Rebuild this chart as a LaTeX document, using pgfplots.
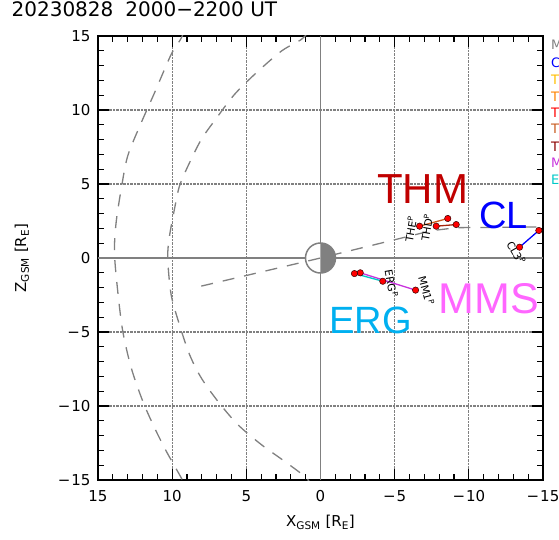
\documentclass[border=0pt]{standalone}
\usepackage{fontspec}
\setmainfont{DejaVu Sans}
\newfontfamily\lib{Liberation Sans}
\usepackage{pgfplots}
\pgfplotsset{compat=1.18}
\definecolor{thmred}{RGB}{192,0,0}
\definecolor{clblue}{RGB}{0,0,255}
\definecolor{mmspink}{RGB}{255,102,255}
\definecolor{ergblue}{RGB}{0,176,240}
\definecolor{tha}{RGB}{255,190,0}
\definecolor{thb}{RGB}{255,130,0}
\definecolor{thc}{RGB}{255,0,0}
\definecolor{thd}{RGB}{200,90,30}
\definecolor{the}{RGB}{140,0,0}
\definecolor{mmsline}{RGB}{200,50,220}
\definecolor{ergline}{RGB}{0,200,200}
\definecolor{mgray}{RGB}{128,128,128}
\begin{document}
\begin{tikzpicture}[x=1pt,y=1pt]
\begin{axis}[
  at={(98pt,59pt)}, anchor=south west,
  scale only axis, width=445pt, height=444pt,
  xmin=-15, xmax=15, ymin=-15, ymax=15, x dir=reverse,
  xtick={-15,-10,-5,0,5,10,15}, ytick={-15,-10,-5,0,5,10,15},
  xticklabels={{−\kern1pt15},{−\kern1pt10},{−\kern1pt5},0,5,10,15},
  yticklabels={{−\kern1pt15},{−\kern1pt10},{−\kern1pt5},0,5,10,15},
  minor tick num=4,
  tick align=inside,
  major tick length=11pt, minor tick length=6pt,
  every tick/.style={black, line width=1.2pt},
  axis line style={black, line width=1.6pt},
  grid=major, major grid style={mgray, densely dotted, line width=1.1pt},
  ticklabel style={font=\fontsize{15}{15}\selectfont},
  xticklabel style={yshift=-7pt},
  yticklabel style={xshift=-4pt},
  xlabel={X\textsubscript{GSM} [R\textsubscript{E}]},
  ylabel={Z\textsubscript{GSM} [R\textsubscript{E}]},
  label style={font=\fontsize{15}{15}\selectfont},
  xlabel style={at={(axis description cs:0.5,-0.095)}, anchor=center},
  ylabel style={at={(axis description cs:-0.171,0.5)}, anchor=center},
  title={20230828\hspace{0.6em}2000−2200 UT},
  title style={at={(axis description cs:-0.202,1.047)}, anchor=west, font=\fontsize{20}{20}\selectfont},
  clip=true,
]
% zero lines
\addplot[mgray, line width=1.5pt] coordinates {(15,0) (-15,0)};
\addplot[mgray, line width=1.5pt] coordinates {(0,15) (0,-15)};
% outer boundary
\addplot[mgray, line width=1.3pt, dash pattern=on 12pt off 10pt, smooth] coordinates {
(9.2,15.3) (9.44,14.76) (10.07,13.75) (11.19,11.16) (12.09,9.13) (13.0,6.88) (13.44,4.63) (13.78,2.38) (13.89,0.35)
(13.67,-2.24) (13.33,-4.95) (12.76,-7.42) (11.98,-9.68) (11.19,-11.47) (10.4,-13.05) (9.39,-14.85) (9.2,-15.3)};
% inner boundary
\addplot[mgray, line width=1.3pt, dash pattern=on 12pt off 10pt, smooth] coordinates {
(0.9,15.2) (1.3,14.76) (2.65,13.97) (4.45,12.4) (5.8,11.05) (6.92,9.58) (8.04,8.0) (8.94,6.2) (9.51,4.85) (9.85,3.28) (10.18,1.47) (10.3,0.0)
(10.07,-2.47) (9.51,-4.5) (8.83,-6.52) (8.04,-8.1) (6.92,-9.68) (5.58,-11.25) (4.0,-12.6) (2.43,-13.73) (1.08,-14.74) (0.7,-15.2)};
% earth
\fill[white] (axis cs:0,0) circle[radius=15pt];
\begin{scope}
\clip (axis cs:0,-3) rectangle (axis cs:-3,3);
\fill[mgray] (axis cs:0,0) circle[radius=15pt];
\end{scope}
\draw[mgray, line width=1.5pt] (axis cs:0,0) circle[radius=15pt];
% neutral sheet line
\addplot[mgray, line width=1.3pt, dash pattern=on 12pt off 10pt] coordinates {
(8.04,-1.9) (0,0) (-7.5,1.85) (-9.2,2.05) (-15,2.1)};
% trajectories
\pgfplotsset{traj/.style={line width=1.3pt, mark=*, mark size=3.2pt, mark options={fill=red, draw=black!80!red, line width=0.5pt, solid}}}
\addplot[thd, traj] coordinates {(-6.68,2.15) (-8.58,2.67)};
\addplot[the!60!thd, traj] coordinates {(-7.8,2.15) (-9.15,2.26)};
\addplot[clblue, traj] coordinates {(-13.42,0.73) (-14.72,1.86)};
\addplot[mmsline, traj] coordinates {(-2.68,-1.0) (-6.41,-2.17)};
\addplot[ergline, traj] coordinates {(-2.29,-1.05) (-4.2,-1.57)};
% small labels
\node[rotate=80, font=\fontsize{10.5}{10.5}\selectfont] at (axis cs:-6.07,1.93) {THE\textsuperscript{P}};
\node[rotate=80, font=\fontsize{10.5}{10.5}\selectfont] at (axis cs:-7.15,2.06) {THD\textsuperscript{P}};
\node[rotate=-60, font=\fontsize{10.5}{10.5}\selectfont] at (axis cs:-13.2,0.37) {CL3\textsuperscript{P}};
\node[rotate=-80, font=\fontsize{10.5}{10.5}\selectfont] at (axis cs:-4.79,-1.72) {ERG\textsuperscript{P}};
\node[rotate=-75, font=\fontsize{10.5}{10.5}\selectfont] at (axis cs:-7.15,-2.2) {MM1\textsuperscript{P}};
% big labels
\node[thmred, font=\lib\fontsize{42}{42}\selectfont] at (axis cs:-6.88,4.63) {THM};
\node[clblue, font=\lib\fontsize{38}{38}\selectfont] at (axis cs:-12.34,2.87) {CL};
\node[mmspink, font=\lib\fontsize{43}{43}\selectfont] at (axis cs:-11.33,-2.74) {MMS};
\node[ergblue, font=\lib\fontsize{38}{38}\selectfont] at (axis cs:-3.37,-4.22) {ERG};
\end{axis}
% legend column, cut by the page edge
\begin{scope}[every node/.style={anchor=west, font=\fontsize{13}{13}\selectfont, inner sep=0pt}]
\node[mgray] at (551,494) {MP};
\node[clblue] at (551,476) {CL};
\node[tha] at (551,459) {THA};
\node[thb] at (551,442) {THB};
\node[thc] at (551,426) {THC};
\node[thd] at (551,410) {THD};
\node[the] at (551,392) {THE};
\node[mmsline] at (551,376) {MMS};
\node[ergline] at (551,359) {ERG};
\end{scope}
\pgfresetboundingbox
\path[use as bounding box] (0,0) rectangle (559,539);
\end{tikzpicture}
\end{document}
